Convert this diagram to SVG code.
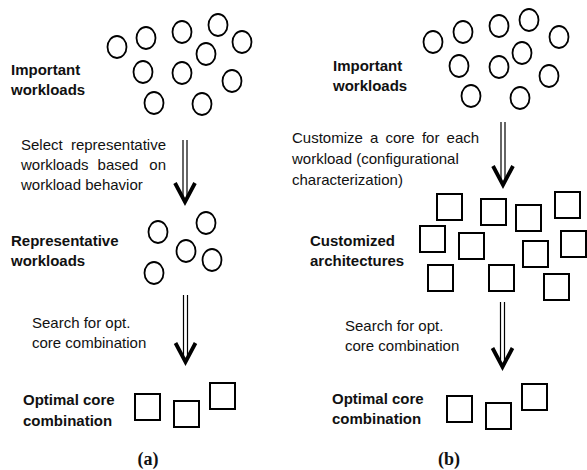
<svg xmlns="http://www.w3.org/2000/svg" width="587" height="470" viewBox="0 0 587 470">
  <style>
    .lbl { font-family: "Liberation Sans", Arial, sans-serif; font-size: 15px; font-weight: bold; fill: #111; }
    .txt { font-family: "Liberation Sans", Arial, sans-serif; font-size: 15px; fill: #111; }
    .cap { font-family: "Liberation Serif", "Times New Roman", serif; font-size: 18px; font-weight: bold; fill: #111; text-anchor: middle; }
    .wl { fill: none; stroke: #000; stroke-width: 1.8; }
    .core { fill: none; stroke: #000; stroke-width: 2; }
    .shaft { stroke: #000; stroke-width: 1.2; fill: none; }
    .head { stroke: #000; stroke-width: 3.8; fill: none; stroke-linecap: butt; stroke-linejoin: miter; }
  </style>
  <defs>
    <ellipse id="w" rx="9.5" ry="11" class="wl"/>
    <rect id="c" width="25" height="26" class="core"/>
    <!-- double-line arrow pointing down, tip at origin -->
    <g id="arr">
      <path class="head" d="M-10,-19 L0,0 L10,-19"/>
    </g>
  </defs>
  <rect width="587" height="470" fill="#fff"/>

  <!-- ===== Panel (a) ===== -->
  <g id="a-important">
    <text class="lbl" x="11" y="75">Important</text>
    <text class="lbl" x="11" y="95">workloads</text>
    <use href="#w" x="117" y="47"/>
    <use href="#w" x="146" y="38"/>
    <use href="#w" x="182" y="32"/>
    <use href="#w" x="218" y="25"/>
    <use href="#w" x="242" y="42"/>
    <use href="#w" x="206" y="54"/>
    <use href="#w" x="143" y="72"/>
    <use href="#w" x="182" y="73"/>
    <use href="#w" x="232" y="81"/>
    <use href="#w" x="154" y="103"/>
    <use href="#w" x="202" y="104"/>
  </g>

  <g id="a-representative">
    <text class="lbl" x="11" y="246">Representative</text>
    <text class="lbl" x="11" y="266">workloads</text>
    <use href="#w" x="158" y="232"/>
    <use href="#w" x="206" y="223"/>
    <use href="#w" x="186" y="251"/>
    <use href="#w" x="212" y="260"/>
    <use href="#w" x="154" y="273"/>
  </g>

  <g id="a-optimal">
    <text class="lbl" x="23" y="405">Optimal core</text>
    <text class="lbl" x="23" y="426">combination</text>
    <use href="#c" x="135" y="394"/>
    <use href="#c" x="174" y="401"/>
    <use href="#c" x="210" y="383"/>
  </g>

  <text class="cap" x="148" y="465">(a)</text>

  <!-- ===== Panel (b) ===== -->
  <g id="b-important">
    <text class="lbl" x="333" y="71">Important</text>
    <text class="lbl" x="333" y="91">workloads</text>
    <use href="#w" x="433" y="42"/>
    <use href="#w" x="463" y="32"/>
    <use href="#w" x="499" y="26"/>
    <use href="#w" x="529" y="20"/>
    <use href="#w" x="559" y="37"/>
    <use href="#w" x="522" y="53"/>
    <use href="#w" x="459" y="66"/>
    <use href="#w" x="499" y="67"/>
    <use href="#w" x="549" y="76"/>
    <use href="#w" x="471" y="96"/>
    <use href="#w" x="520" y="98"/>
  </g>

  <g id="b-customized">
    <text class="lbl" x="310" y="246">Customized</text>
    <text class="lbl" x="310" y="266">architectures</text>
    <use href="#c" x="437" y="194"/>
    <use href="#c" x="481" y="199"/>
    <use href="#c" x="516" y="205"/>
    <use href="#c" x="555" y="192"/>
    <use href="#c" x="420" y="226"/>
    <use href="#c" x="459" y="233"/>
    <use href="#c" x="523" y="241"/>
    <use href="#c" x="561" y="231"/>
    <use href="#c" x="428" y="265"/>
    <use href="#c" x="489" y="265"/>
    <use href="#c" x="544" y="274"/>
  </g>

  <g id="b-optimal">
    <text class="lbl" x="332" y="404">Optimal core</text>
    <text class="lbl" x="332" y="424">combination</text>
    <use href="#c" x="447" y="396"/>
    <use href="#c" x="486" y="403"/>
    <use href="#c" x="522" y="384"/>
  </g>

  <text class="cap" x="449" y="465">(b)</text>

  <!-- ===== Connectors ===== -->
  <g id="connectors">
    <!-- (a) select step -->
    <path class="shaft" d="M183,140 V199 M187,140 V199"/>
    <use href="#arr" x="185" y="202"/>
    <!-- (a) search step -->
    <path class="shaft" d="M183.5,295 V359 M187.5,295 V359"/>
    <use href="#arr" x="185.5" y="362"/>
    <!-- (b) customize step -->
    <path class="shaft" d="M501,122 V182 M505,122 V182"/>
    <use href="#arr" x="503" y="185"/>
    <!-- (b) search step -->
    <path class="shaft" d="M500.5,302 V364 M504.5,302 V364"/>
    <use href="#arr" x="502.5" y="367"/>

    <!-- step descriptions -->
    <text class="txt" x="21" y="150">Select</text>
    <text class="txt" x="166" y="150" text-anchor="end">representative</text>
    <text class="txt" x="21" y="170">workloads</text>
    <text class="txt" x="118" y="170" text-anchor="middle">based</text>
    <text class="txt" x="166" y="170" text-anchor="end">on</text>
    <text class="txt" x="21" y="190">workload behavior</text>

    <text class="txt" x="32" y="328">Search for opt.</text>
    <text class="txt" x="32" y="348">core combination</text>

    <text class="txt" x="292" y="143" word-spacing="3">Customize a core for each</text>
    <text class="txt" x="292" y="164">workload (configurational</text>
    <text class="txt" x="292" y="185">characterization)</text>

    <text class="txt" x="345" y="331">Search for opt.</text>
    <text class="txt" x="345" y="351">core combination</text>
  </g>
</svg>
